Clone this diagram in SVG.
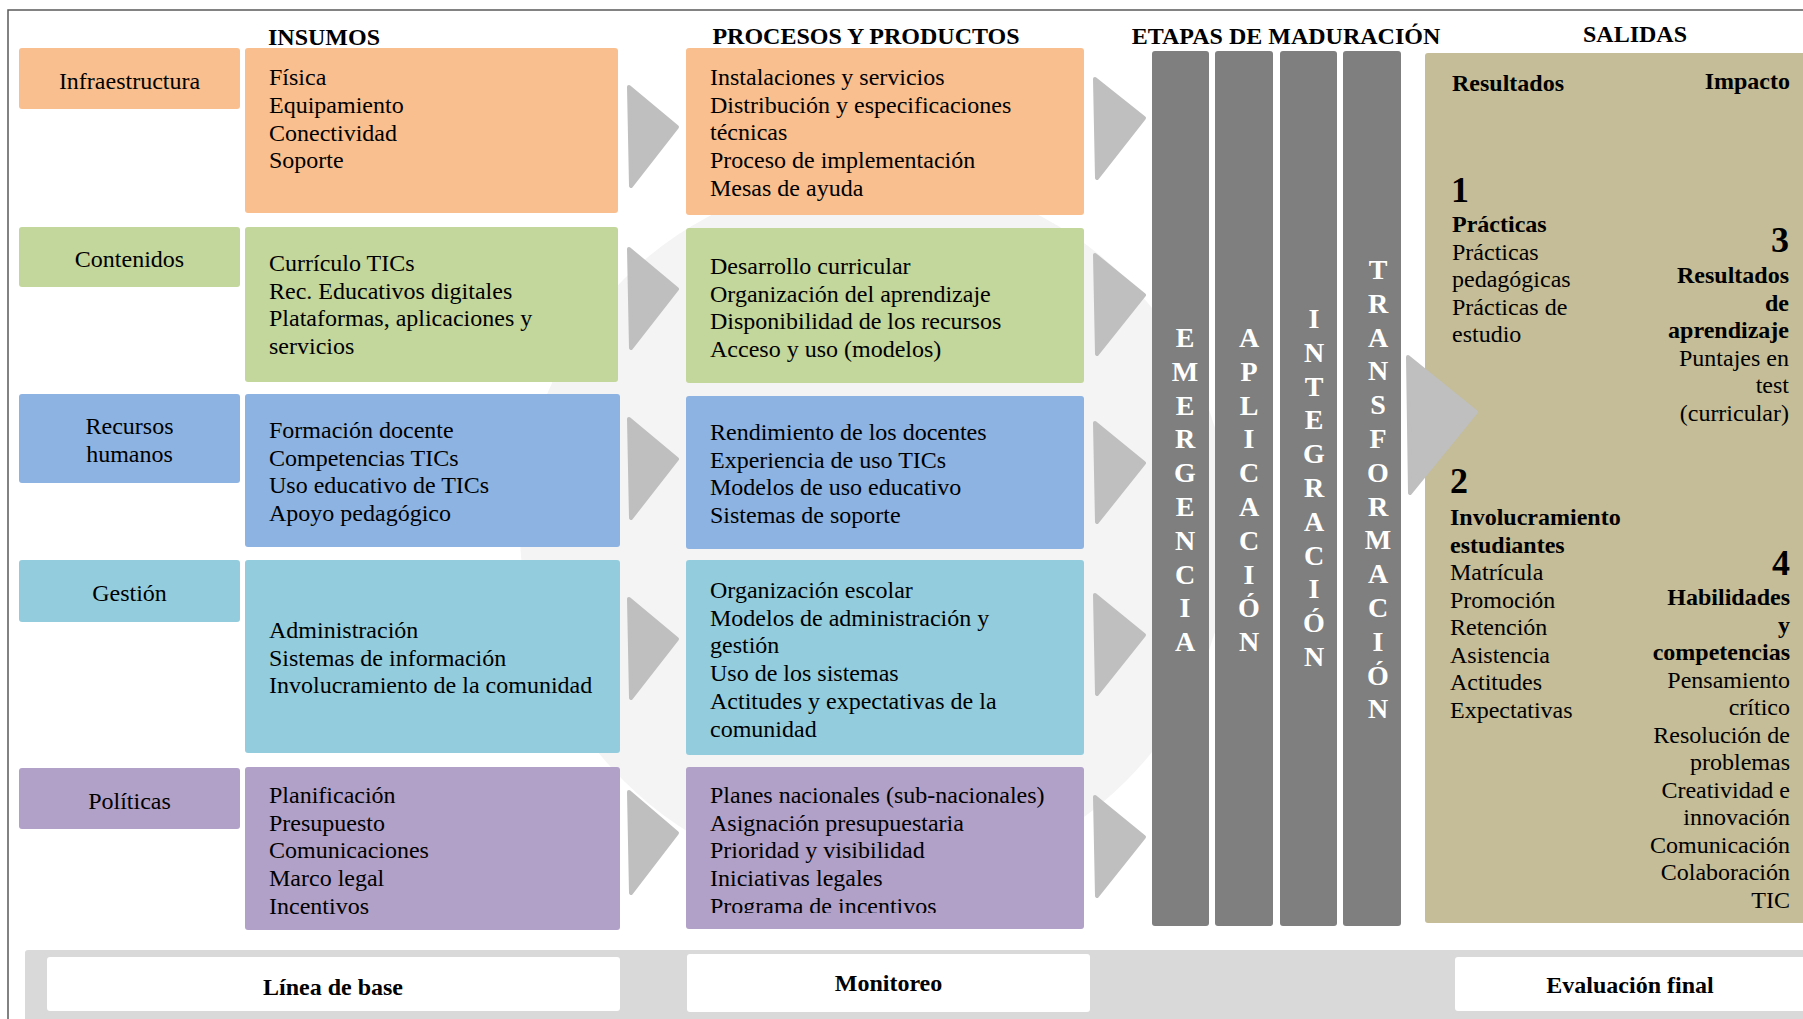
<svg xmlns="http://www.w3.org/2000/svg" width="1803" height="1019" viewBox="0 0 1803 1019">
<defs>
<style>
text{font-family:"Liberation Serif","Times New Roman",serif;font-size:24px;fill:#000}
.c{text-anchor:middle}
.r{text-anchor:end}
.b{font-weight:bold}
.num{font-weight:bold;font-size:36px}
.v{font-weight:bold;font-size:28px;fill:#fff;text-anchor:middle}
.arrow{fill:#BFBFBF;stroke:#BFBFBF;stroke-width:4;stroke-linejoin:round}
.or{fill:#F9BF8F}.gr{fill:#C3D69B}.bl{fill:#8DB3E2}.cy{fill:#93CDDD}.pu{fill:#B1A0C7}
.bar{fill:#7F7F7F}
.wb{fill:#fff}
</style>
<clipPath id="clipPol"><rect x="686" y="767" width="398" height="146"/></clipPath>
</defs>
<rect width="1803" height="1019" fill="#fff"/>
<!-- watermark -->
<circle cx="875" cy="530" r="355" fill="#F4F4F4"/>
<!-- frame -->
<path d="M8 1019 V10 H1803" fill="none" stroke="#5A5A5A" stroke-width="1.5"/>

<!-- headers -->
<g id="headers">
<text class="b c" x="324" y="45">INSUMOS</text>
<text class="b c" x="866" y="44">PROCESOS Y PRODUCTOS</text>
<text class="b c" x="1286" y="44">ETAPAS DE MADURACIÓN</text>
<text class="b c" x="1635" y="42">SALIDAS</text>
</g>

<!-- Row 1 -->
<g id="lbl-infra"><rect class="or" x="19" y="48" width="221" height="61" rx="3"/><text class="c" x="129.5" y="89">Infraestructura</text></g>
<g id="ins-infra"><rect class="or" x="245" y="48" width="373" height="165" rx="3"/>
<text x="269" y="85">Física</text><text x="269" y="113">Equipamiento</text><text x="269" y="140.5">Conectividad</text><text x="269" y="168">Soporte</text></g>
<g id="pro-infra"><rect class="or" x="686" y="48" width="398" height="167" rx="3"/>
<text x="710" y="85">Instalaciones y servicios</text><text x="710" y="112.7">Distribución y especificaciones</text><text x="710" y="140.4">técnicas</text><text x="710" y="168.1">Proceso de implementación</text><text x="710" y="195.8">Mesas de ayuda</text></g>

<!-- Row 2 -->
<g id="lbl-cont"><rect class="gr" x="19" y="227" width="221" height="60" rx="3"/><text class="c" x="129.5" y="267">Contenidos</text></g>
<g id="ins-cont"><rect class="gr" x="245" y="227" width="373" height="155" rx="3"/>
<text x="269" y="271">Currículo TICs</text><text x="269" y="298.7">Rec. Educativos digitales</text><text x="269" y="326.4">Plataformas, aplicaciones y</text><text x="269" y="354">servicios</text></g>
<g id="pro-cont"><rect class="gr" x="686" y="228" width="398" height="155" rx="3"/>
<text x="710" y="274">Desarrollo curricular</text><text x="710" y="301.7">Organización del aprendizaje</text><text x="710" y="329.4">Disponibilidad de los recursos</text><text x="710" y="357">Acceso y uso (modelos)</text></g>

<!-- Row 3 -->
<g id="lbl-rrhh"><rect class="bl" x="19" y="394" width="221" height="89" rx="3"/><text class="c" x="129.5" y="434">Recursos</text><text class="c" x="129.5" y="462">humanos</text></g>
<g id="ins-rrhh"><rect class="bl" x="245" y="394" width="375" height="153" rx="3"/>
<text x="269" y="438">Formación docente</text><text x="269" y="465.7">Competencias TICs</text><text x="269" y="493.4">Uso educativo de TICs</text><text x="269" y="521.1">Apoyo pedagógico</text></g>
<g id="pro-rrhh"><rect class="bl" x="686" y="396" width="398" height="153" rx="3"/>
<text x="710" y="440">Rendimiento de los docentes</text><text x="710" y="467.7">Experiencia de uso TICs</text><text x="710" y="495.4">Modelos de uso educativo</text><text x="710" y="523.1">Sistemas de soporte</text></g>

<!-- Row 4 -->
<g id="lbl-gest"><rect class="cy" x="19" y="560" width="221" height="62" rx="3"/><text class="c" x="129.5" y="601">Gestión</text></g>
<g id="ins-gest"><rect class="cy" x="245" y="560" width="375" height="193" rx="3"/>
<text x="269" y="638">Administración</text><text x="269" y="665.7">Sistemas de información</text><text x="269" y="693.4">Involucramiento de la comunidad</text></g>
<g id="pro-gest"><rect class="cy" x="686" y="560" width="398" height="195" rx="3"/>
<text x="710" y="598">Organización escolar</text><text x="710" y="625.7">Modelos de administración y</text><text x="710" y="653.4">gestión</text><text x="710" y="681.1">Uso de los sistemas</text><text x="710" y="708.8">Actitudes y expectativas de la</text><text x="710" y="736.5">comunidad</text></g>

<!-- Row 5 -->
<g id="lbl-pol"><rect class="pu" x="19" y="768" width="221" height="61" rx="3"/><text class="c" x="129.5" y="809">Políticas</text></g>
<g id="ins-pol"><rect class="pu" x="245" y="767" width="375" height="163" rx="3"/>
<text x="269" y="803">Planificación</text><text x="269" y="830.7">Presupuesto</text><text x="269" y="858.4">Comunicaciones</text><text x="269" y="886.1">Marco legal</text><text x="269" y="913.8">Incentivos</text></g>
<g id="pro-pol"><rect class="pu" x="686" y="767" width="398" height="162" rx="3"/>
<text x="710" y="803">Planes nacionales (sub-nacionales)</text><text x="710" y="830.7">Asignación presupuestaria</text><text x="710" y="858.4">Prioridad y visibilidad</text><text x="710" y="886.1">Iniciativas legales</text><text x="710" y="913.8" clip-path="url(#clipPol)">Programa de incentivos</text></g>

<!-- Maturation bars -->
<g id="etapas">
<rect class="bar" x="1152" y="51" width="57" height="875" rx="3"/>
<rect class="bar" x="1215" y="51" width="58" height="875" rx="3"/>
<rect class="bar" x="1280" y="51" width="57" height="875" rx="3"/>
<rect class="bar" x="1343" y="51" width="58" height="875" rx="3"/>
<text class="v" x="1185" y="347"><tspan x="1185">E</tspan><tspan x="1185" dy="33.8">M</tspan><tspan x="1185" dy="33.8">E</tspan><tspan x="1185" dy="33.8">R</tspan><tspan x="1185" dy="33.8">G</tspan><tspan x="1185" dy="33.8">E</tspan><tspan x="1185" dy="33.8">N</tspan><tspan x="1185" dy="33.8">C</tspan><tspan x="1185" dy="33.8">I</tspan><tspan x="1185" dy="33.8">A</tspan></text>
<text class="v" x="1249" y="347"><tspan x="1249">A</tspan><tspan x="1249" dy="33.8">P</tspan><tspan x="1249" dy="33.8">L</tspan><tspan x="1249" dy="33.8">I</tspan><tspan x="1249" dy="33.8">C</tspan><tspan x="1249" dy="33.8">A</tspan><tspan x="1249" dy="33.8">C</tspan><tspan x="1249" dy="33.8">I</tspan><tspan x="1249" dy="33.8">Ó</tspan><tspan x="1249" dy="33.8">N</tspan></text>
<text class="v" x="1314" y="328"><tspan x="1314">I</tspan><tspan x="1314" dy="33.8">N</tspan><tspan x="1314" dy="33.8">T</tspan><tspan x="1314" dy="33.8">E</tspan><tspan x="1314" dy="33.8">G</tspan><tspan x="1314" dy="33.8">R</tspan><tspan x="1314" dy="33.8">A</tspan><tspan x="1314" dy="33.8">C</tspan><tspan x="1314" dy="33.8">I</tspan><tspan x="1314" dy="33.8">Ó</tspan><tspan x="1314" dy="33.8">N</tspan></text>
<text class="v" x="1378" y="279"><tspan x="1378">T</tspan><tspan x="1378" dy="33.8">R</tspan><tspan x="1378" dy="33.8">A</tspan><tspan x="1378" dy="33.8">N</tspan><tspan x="1378" dy="33.8">S</tspan><tspan x="1378" dy="33.8">F</tspan><tspan x="1378" dy="33.8">O</tspan><tspan x="1378" dy="33.8">R</tspan><tspan x="1378" dy="33.8">M</tspan><tspan x="1378" dy="33.8">A</tspan><tspan x="1378" dy="33.8">C</tspan><tspan x="1378" dy="33.8">I</tspan><tspan x="1378" dy="33.8">Ó</tspan><tspan x="1378" dy="33.8">N</tspan></text>
</g>

<!-- Salidas -->
<g id="salidas">
<rect x="1425" y="53" width="390" height="870" rx="3" fill="#C4BD97"/>
<text class="b" x="1452" y="91">Resultados</text>
<text class="b r" x="1790" y="89">Impacto</text>
<text class="num" x="1451" y="202">1</text>
<text class="b" x="1452" y="232">Prácticas</text>
<text x="1452" y="259.5">Prácticas</text>
<text x="1452" y="287">pedagógicas</text>
<text x="1452" y="314.5">Prácticas de</text>
<text x="1452" y="342">estudio</text>
<text class="num r" x="1789" y="252">3</text>
<text class="b r" x="1789" y="283">Resultados</text>
<text class="b r" x="1789" y="310.5">de</text>
<text class="b r" x="1789" y="338">aprendizaje</text>
<text class="r" x="1789" y="365.5">Puntajes en</text>
<text class="r" x="1789" y="393">test</text>
<text class="r" x="1789" y="420.5">(curricular)</text>
<text class="num" x="1450" y="493">2</text>
<text class="b" x="1450" y="525">Involucramiento</text>
<text class="b" x="1450" y="552.5">estudiantes</text>
<text x="1450" y="580">Matrícula</text>
<text x="1450" y="607.5">Promoción</text>
<text x="1450" y="635">Retención</text>
<text x="1450" y="662.5">Asistencia</text>
<text x="1450" y="690">Actitudes</text>
<text x="1450" y="717.5">Expectativas</text>
<text class="num r" x="1790" y="575">4</text>
<text class="b r" x="1790" y="605">Habilidades</text>
<text class="b r" x="1790" y="632.5">y</text>
<text class="b r" x="1790" y="660">competencias</text>
<text class="r" x="1790" y="687.5">Pensamiento</text>
<text class="r" x="1790" y="715">crítico</text>
<text class="r" x="1790" y="742.5">Resolución de</text>
<text class="r" x="1790" y="770">problemas</text>
<text class="r" x="1790" y="797.5">Creatividad e</text>
<text class="r" x="1790" y="825">innovación</text>
<text class="r" x="1790" y="852.5">Comunicación</text>
<text class="r" x="1790" y="880">Colaboración</text>
<text class="r" x="1790" y="907.5">TIC</text>
</g>

<!-- connectors (chevrons) -->
<g id="connectors">
<polygon class="arrow" points="629,87 677,127 631,186"/>
<polygon class="arrow" points="629,249 677,289 631,348"/>
<polygon class="arrow" points="629,419 677,459 631,518"/>
<polygon class="arrow" points="629,599 677,639 631,698"/>
<polygon class="arrow" points="629,792 677,833 631,893"/>
<polygon class="arrow" points="1095,79 1144,118 1097,178"/>
<polygon class="arrow" points="1095,255 1144,295 1097,354"/>
<polygon class="arrow" points="1095,423 1144,463 1097,522"/>
<polygon class="arrow" points="1095,595 1144,635 1097,694"/>
<polygon class="arrow" points="1095,797 1144,837 1097,896"/>
<polygon class="arrow" points="1408,357 1476,412 1410,493"/>
</g>

<!-- Evaluation band -->
<g id="evaluacion">
<rect x="25" y="950" width="1790" height="75" rx="3" fill="#D9D9D9"/>
<g id="linea-base"><rect class="wb" x="47" y="957" width="573" height="54" rx="3"/><text class="b c" x="333" y="995">Línea de base</text></g>
<g id="monitoreo"><rect class="wb" x="687" y="954" width="403" height="58" rx="3"/><text class="b c" x="888.5" y="991">Monitoreo</text></g>
<g id="eval-final"><rect class="wb" x="1455" y="957" width="360" height="54" rx="3"/><text class="b c" x="1630" y="993">Evaluación final</text></g>
</g>
</svg>
